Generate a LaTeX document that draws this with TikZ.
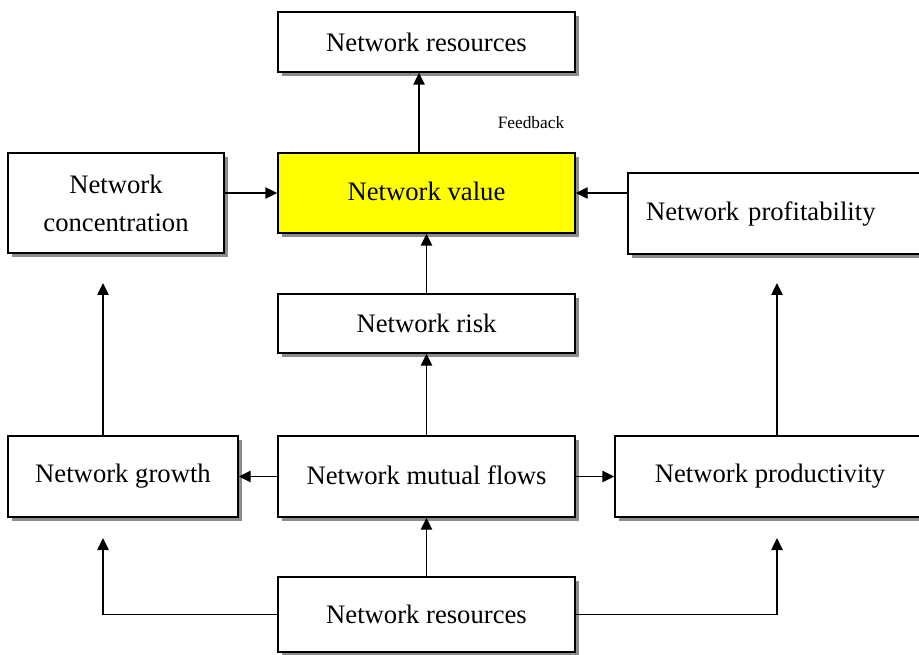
\documentclass[tikz,border=0pt]{standalone}
\usepackage{fontspec}
\setmainfont{Liberation Serif}
\usepackage{tikz}
\usetikzlibrary{shadows,arrows.meta}
\definecolor{boxyellow}{RGB}{255,255,0}

\begin{document}
\begin{tikzpicture}[x=0.75pt,y=-0.75pt,
   box/.style={draw,line width=1.1pt,fill=white,inner sep=0pt,
     font=\fontsize{20}{28.5}\selectfont,
     drop shadow={shadow xshift=3pt,shadow yshift=-3pt,fill=gray!90,opacity=1}},
   arr/.style={line width=1.1pt,-{Triangle[length=9pt,width=8.5pt]}}]
   \useasboundingbox (0,0) rectangle (919,655);
   \node[box,minimum width=222.75pt,minimum height=45pt] (rtop) at (426.5,42) {Network resources};
   \node[box,fill=boxyellow,minimum width=222.75pt,minimum height=60pt] (value) at (426.5,193) {\raisebox{3pt}{Network value}};
   \node[box,minimum width=162pt,minimum height=75pt,align=center] (conc) at (116,203) {Network\\concentration};
   \node[box,minimum width=222.75pt,minimum height=60.75pt,text width=195.75pt,align=left] (prof) at (776.5,213.5) {Network profitability};
   \node[box,minimum width=222.75pt,minimum height=44.25pt] (risk) at (426.5,323.5) {\raisebox{-5pt}{Network risk}};
   \node[box,minimum width=172.5pt,minimum height=60.75pt] (growth) at (123,476.5) {Network growth};
   \node[box,minimum width=222.75pt,minimum height=60.75pt] (flows) at (426.5,476.5) {\raisebox{2pt}{Network mutual flows}};
   \node[box,minimum width=232.5pt,minimum height=60.75pt] (prod) at (770,476.5) {Network productivity};
   \node[box,minimum width=222.75pt,minimum height=56.25pt] (bres) at (426.5,614.5) {Network resources};
   \node[font=\fontsize{13}{15}\selectfont] (fb) at (531,123) {Feedback};
   \coordinate (cin) at (103,283);
   \coordinate (gin) at (103,538);
   \coordinate (fin) at (777,283);
   \coordinate (pin) at (777,538);
   \draw[arr] ([xshift=-5.6pt]value.north) -- ([xshift=-5.6pt]rtop.south);
   \draw[arr] (conc.east |- value.west) -- (value.west);
   \draw[arr] (prof.west |- value.east) -- (value.east);
   \draw[arr] (risk) -- (value);
   \draw[arr] (flows) -- (risk);
   \draw[arr] (flows) -- (growth);
   \draw[arr] (flows) -- (prod);
   \draw[arr] (bres) -- (flows);
   \draw[arr] (bres.west) -| (gin);
   \draw[arr] (bres.east) -| (pin);
   \draw[arr] (growth.north -| cin) -- (cin);
   \draw[arr] (prod.north -| fin) -- (fin);
\end{tikzpicture}
\end{document}
